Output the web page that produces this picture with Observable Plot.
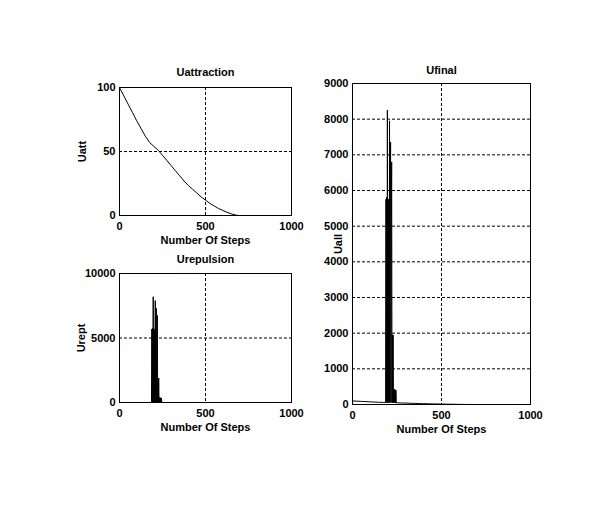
<!DOCTYPE html>
<html>
<head>
<meta charset="utf-8">
<script src="https://cdn.jsdelivr.net/npm/d3@7"></script>
<script src="https://cdn.jsdelivr.net/npm/@observablehq/plot@0.6"></script>
<style>
html, body { margin: 0; padding: 0; background: #fff; }
#fig { position: relative; width: 595px; height: 512px; overflow: hidden; background: #fff; }
#fig svg { position: absolute; left: 0; top: 0; overflow: visible; background: transparent; }
</style>
</head>
<body>
<div id="fig"></div>
<script>
// ---------- data ----------
const titles = ["Uattraction", "Urepulsion", "Ufinal"];
const yLabels = ["Uatt", "Urept", "Uall"];
const xLabel = "Number Of Steps";

const xTicks = [0, 500, 1000];
const attTicks = [0, 50, 100];
const repTicks = [0, 5000, 10000];
const finalTicks = [0, 1000, 2000, 3000, 4000, 5000, 6000, 7000, 8000, 9000];

// attraction potential vs step
const stepsAtt = [0, 25, 50, 75, 100, 125, 150, 175, 200, 225, 250, 275, 300, 325, 350, 375, 400, 425, 450, 475, 500, 525, 550, 575, 600, 625, 650, 675, 690, 1000];
const uatt     = [100, 93.5, 87, 80.5, 74, 68, 62, 57, 54, 51, 47, 43, 39, 35, 31, 27, 23.5, 20.5, 17.5, 14.5, 12, 9.5, 7.5, 5.5, 4, 2.5, 1.3, 0.4, 0, 0];

// repulsion potential vs step (oscillation near the obstacle)
const stepsRep = [0, 186, 188, 190, 192, 194, 196, 198, 200, 202, 204, 206, 208, 210, 212, 214, 216, 218, 220, 222, 224, 226, 228, 230, 232, 234, 236, 238, 240, 242, 244, 246, 1000];
const urep     = [0, 0, 5700, 0, 5750, 0, 8200, 0, 5700, 0, 5700, 0, 7900, 0, 5650, 7300, 0, 5000, 6750, 0, 1900, 0, 1900, 0, 380, 0, 380, 0, 360, 0, 350, 0, 0];

// total potential vs step
const stepsFinal = [0, 25, 50, 75, 100, 125, 150, 175, 186, 188, 190, 192, 194, 196, 198, 200, 202, 204, 206, 208, 210, 212, 214, 216, 218, 220, 222, 224, 226, 228, 230, 232, 234, 236, 238, 240, 242, 244, 246, 250, 275, 300, 325, 350, 375, 400, 425, 450, 475, 500, 525, 550, 575, 600, 625, 650, 675, 690, 1000];
const ufinal     = [100, 93.5, 87, 80.5, 74, 68, 62, 57, 56, 5756, 55, 5805, 55, 8255, 54, 5754, 54, 5754, 53, 7953, 53, 5703, 7353, 52, 5052, 6802, 51, 1951, 51, 1950, 50, 430, 50, 430, 49, 409, 48, 398, 48, 47, 43, 39, 35, 31, 27, 23.5, 20.5, 17.5, 14.5, 12, 9.5, 7.5, 5.5, 4, 2.5, 1.3, 0.4, 0, 0];

// ---------- drawing ----------
const W = 595, H = 512;
const FONT = "Arial, 'Liberation Sans', Helvetica, sans-serif";
const fmt = d3.format("d");
const dash = "3,2";

function panel({frame: [l, t, r, b], yDomain, yTicks, yGrid, xs, ys, title, titleDy, ylab, ylabDx}) {
  return Plot.plot({
    width: W, height: H,
    marginLeft: l, marginRight: W - r, marginTop: t, marginBottom: H - b,
    style: {fontFamily: FONT, fontSize: "11px", fontWeight: "bold", color: "#000", background: "transparent", overflow: "visible"},
    x: {domain: [0, 1000]},
    y: {domain: yDomain},
    marks: [
      Plot.gridX([500], {stroke: "#000", strokeOpacity: 1, strokeDasharray: dash}),
      Plot.gridY(yGrid, {stroke: "#000", strokeOpacity: 1, strokeDasharray: dash}),
      Plot.line(ys, {x: xs, y: ys, stroke: "#000", strokeWidth: 1}),
      Plot.frame({stroke: "#000", strokeWidth: 1}),
      Plot.axisX(xTicks, {tickSize: 0, tickPadding: 7, tickFormat: fmt, label: null, fontWeight: "bold"}),
      Plot.axisY(yTicks, {tickSize: 0, tickPadding: 4, tickFormat: fmt, label: null, fontWeight: "bold"}),
      Plot.text([title], {frameAnchor: "top", dy: titleDy, lineAnchor: "middle", textAnchor: "middle", fontSize: 11, fontWeight: "bold"}),
      Plot.text([xLabel], {frameAnchor: "bottom", dy: 25, lineAnchor: "middle", textAnchor: "middle", fontSize: 11, fontWeight: "bold"}),
      Plot.text([ylab], {frameAnchor: "left", dx: ylabDx, rotate: -90, lineAnchor: "middle", textAnchor: "middle", fontSize: 11, fontWeight: "bold"})
    ]
  });
}

const fig = document.getElementById("fig");
fig.append(panel({
  frame: [119, 87, 291, 215], yDomain: [0, 100], yTicks: attTicks, yGrid: [50],
  xs: stepsAtt, ys: uatt, title: titles[0], titleDy: -15, ylab: yLabels[0], ylabDx: -37
}));
fig.append(panel({
  frame: [119, 273, 291, 402], yDomain: [0, 10000], yTicks: repTicks, yGrid: [5000, 10000],
  xs: stepsRep, ys: urep, title: titles[1], titleDy: -14, ylab: yLabels[1], ylabDx: -38
}));
fig.append(panel({
  frame: [352, 83, 530, 404], yDomain: [0, 9000], yTicks: finalTicks, yGrid: finalTicks.slice(1, -1),
  xs: stepsFinal, ys: ufinal, title: titles[2], titleDy: -13, ylab: yLabels[2], ylabDx: -14
}));
</script>
</body>
</html>
